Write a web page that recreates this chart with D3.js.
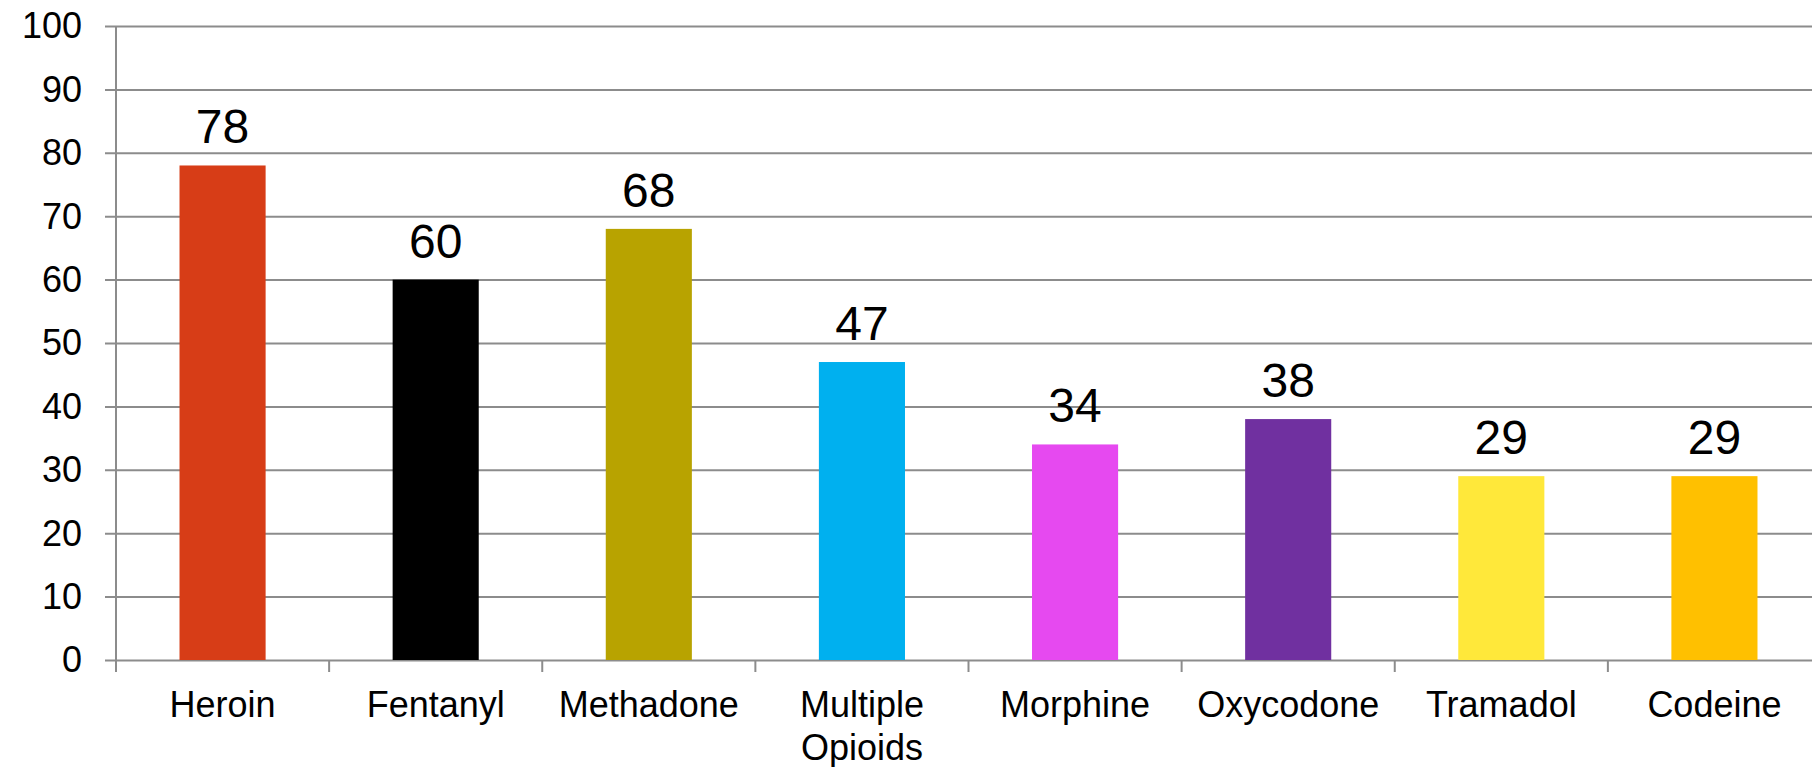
<!DOCTYPE html>
<html>
<head>
<meta charset="utf-8">
<script src="https://cdn.jsdelivr.net/npm/d3@7"></script>
<style>
  html, body { margin: 0; padding: 0; background: #ffffff; }
  svg { display: block; }
  text { font-family: "Liberation Sans", Arial, sans-serif; fill: #000; }
</style>
</head>
<body>
<svg id="chart" width="1812" height="767"></svg>
<script>
// Opioid categories and their values
const categories = ["Heroin", "Fentanyl", "Methadone", "Multiple Opioids", "Morphine", "Oxycodone", "Tramadol", "Codeine"];
const values = [78, 60, 68, 47, 34, 38, 29, 29];
const barColors = ["#d73d17", "#000000", "#b8a300", "#00b0ef", "#e649f0", "#7030a0", "#ffe83a", "#ffc000"];
const yTicks = [0, 10, 20, 30, 40, 50, 60, 70, 80, 90, 100];

const svg = d3.select("#chart");
const plotLeft = 116, plotRight = 1821, plotTop = 26, plotBottom = 660;
const gridColor = "#8c8c8c";

const y = d3.scaleLinear().domain([0, 100]).range([plotBottom, plotTop]);
const x = d3.scaleBand().domain(categories).range([plotLeft, plotRight])
  .paddingInner(0.596).paddingOuter(0.298);

// horizontal gridlines with small ticks to the left of the axis
const yAxis = d3.axisLeft(y).tickValues(yTicks).tickSize(-(plotRight - plotLeft)).tickPadding(0).tickFormat(d3.format("d"));
const gy = svg.append("g").attr("transform", `translate(${plotLeft},0)`).call(yAxis);
gy.select(".domain").remove();
gy.selectAll(".tick line")
  .attr("x1", -11)
  .attr("x2", plotRight - plotLeft)
  .attr("stroke", gridColor)
  .attr("stroke-width", 2);
gy.selectAll(".tick text")
  .attr("x", -34)
  .attr("dy", "0.33em")
  .style("font-size", "36px")
  .style("font-family", "'Liberation Sans', Arial, sans-serif")
  .attr("fill", "#000");

// vertical axis line
svg.append("line")
  .attr("x1", plotLeft).attr("x2", plotLeft)
  .attr("y1", y(100)).attr("y2", plotBottom + 12)
  .attr("stroke", gridColor).attr("stroke-width", 2);

// category boundary ticks below the baseline
svg.append("g").selectAll("line")
  .data(categories)
  .join("line")
  .attr("x1", d => x(d) - x.step() * x.paddingInner() / 2)
  .attr("x2", d => x(d) - x.step() * x.paddingInner() / 2)
  .attr("y1", plotBottom)
  .attr("y2", plotBottom + 12)
  .attr("stroke", gridColor).attr("stroke-width", 2);

// bars
svg.append("g").selectAll("rect")
  .data(categories)
  .join("rect")
  .attr("x", d => x(d))
  .attr("width", x.bandwidth())
  .attr("y", (d, i) => y(values[i]))
  .attr("height", (d, i) => y(0) - y(values[i]))
  .attr("fill", (d, i) => barColors[i]);

// value labels above bars
svg.append("g").selectAll("text")
  .data(categories)
  .join("text")
  .attr("x", d => x(d) + x.bandwidth() / 2)
  .attr("y", (d, i) => y(values[i]) - 22)
  .attr("text-anchor", "middle")
  .style("font-size", "48px")
  .text((d, i) => values[i]);

// category labels, wrapped on spaces
const labels = svg.append("g").selectAll("text")
  .data(categories)
  .join("text")
  .attr("x", d => x(d) + x.bandwidth() / 2)
  .attr("y", 717)
  .attr("text-anchor", "middle")
  .style("font-size", "36px");
labels.each(function(d) {
  const words = d.split(" ");
  const t = d3.select(this);
  words.forEach((w, i) => {
    t.append("tspan")
      .attr("x", x(d) + x.bandwidth() / 2)
      .attr("dy", i === 0 ? 0 : 43)
      .text(w);
  });
});
</script>
</body>
</html>
